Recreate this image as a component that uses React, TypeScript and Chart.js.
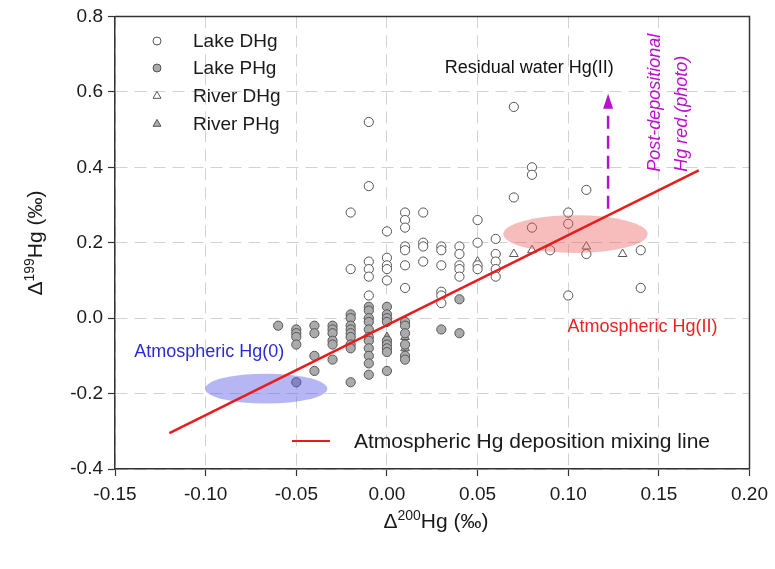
import React, { useEffect, useRef } from "react";
import { Chart, registerables } from "chart.js";

Chart.register(...registerables);

const FONT = "'Liberation Sans', Arial, sans-serif";

// ---------- data ----------
const xTicks = [-0.15, -0.1, -0.05, 0.0, 0.05, 0.1, 0.15, 0.2];
const yTicks = [-0.4, -0.2, 0.0, 0.2, 0.4, 0.6, 0.8];

const seriesNames = ["Lake DHg", "Lake PHg", "River DHg", "River PHg"];

const lakeDHg: [number, number][] = [
  [-0.02, 0.28], [-0.02, 0.13],
  [-0.01, 0.52], [-0.01, 0.35], [-0.01, 0.15], [-0.01, 0.13], [-0.01, 0.11], [-0.01, 0.06],
  [0.0, 0.23], [0.0, 0.16], [0.0, 0.14], [0.0, 0.13], [0.0, 0.1],
  [0.01, 0.28], [0.01, 0.26], [0.01, 0.24], [0.01, 0.19], [0.01, 0.18], [0.01, 0.14], [0.01, 0.08],
  [0.02, 0.28], [0.02, 0.2], [0.02, 0.19], [0.02, 0.15],
  [0.03, 0.19], [0.03, 0.18], [0.03, 0.14], [0.03, 0.07], [0.03, 0.06], [0.03, 0.04],
  [0.04, 0.19], [0.04, 0.17], [0.04, 0.14], [0.04, 0.13], [0.04, 0.11],
  [0.05, 0.26], [0.05, 0.2], [0.05, 0.14], [0.05, 0.13],
  [0.06, 0.21], [0.06, 0.17], [0.06, 0.15], [0.06, 0.13], [0.06, 0.11],
  [0.07, 0.56], [0.07, 0.32],
  [0.08, 0.4], [0.08, 0.38], [0.08, 0.24],
  [0.09, 0.18],
  [0.1, 0.28], [0.1, 0.25], [0.1, 0.06],
  [0.11, 0.34], [0.11, 0.17],
  [0.14, 0.18], [0.14, 0.08],
];

const lakePHg: [number, number][] = [
  [-0.06, -0.02],
  [-0.05, -0.03], [-0.05, -0.04], [-0.05, -0.05], [-0.05, -0.07], [-0.05, -0.17],
  [-0.04, -0.02], [-0.04, -0.04], [-0.04, -0.1], [-0.04, -0.14],
  [-0.03, -0.02], [-0.03, -0.03], [-0.03, -0.04], [-0.03, -0.06], [-0.03, -0.07], [-0.03, -0.11],
  [-0.02, 0.01], [-0.02, 0.0], [-0.02, -0.02], [-0.02, -0.03], [-0.02, -0.04], [-0.02, -0.05],
  [-0.02, -0.07], [-0.02, -0.08], [-0.02, -0.17],
  [-0.01, 0.03], [-0.01, 0.02], [-0.01, 0.0], [-0.01, -0.01], [-0.01, -0.03], [-0.01, -0.05],
  [-0.01, -0.06], [-0.01, -0.08], [-0.01, -0.1], [-0.01, -0.12], [-0.01, -0.15],
  [0.0, 0.03], [0.0, 0.01], [0.0, 0.0], [0.0, -0.01], [0.0, -0.06], [0.0, -0.07],
  [0.0, -0.08], [0.0, -0.09], [0.0, -0.14],
  [0.01, -0.01], [0.01, -0.02], [0.01, -0.04], [0.01, -0.07], [0.01, -0.1], [0.01, -0.11],
  [0.03, -0.03],
  [0.04, 0.05], [0.04, -0.04],
];

const riverDHg: [number, number][] = [
  [0.05, 0.15], [0.07, 0.17], [0.08, 0.18], [0.11, 0.19], [0.13, 0.17],
];

const riverPHg: [number, number][] = [
  [0.0, -0.05], [0.01, -0.05], [0.01, -0.08],
];

const mixingLine: [number, number][] = [[-0.12, -0.305], [0.172, 0.392]];
const mixingLabel = "Atmospheric Hg deposition mixing line";

// annotation anchors (data units)
const ellipseHg0 = { cx: -0.0666, cy: -0.187, rx: 0.0337, ry: 0.0396 };
const ellipseHgII = { cx: 0.104, cy: 0.223, rx: 0.0398, ry: 0.05 };
const labelHg0 = { text: "Atmospheric Hg(0)", x: -0.098, y: -0.09 };
const labelHgII = { text: "Atmospheric Hg(II)", x: 0.141, y: -0.024 };
const labelResidual = { text: "Residual water Hg(II)", x: 0.0785, y: 0.662 };
const labelPost = ["Post-depositional", "Hg red.(photo)"];
const postX = [0.1477, 0.1626];
const postY = 0.388;
const arrow = { x: 0.122, from: 0.29, to: 0.595 };

// ---------- helpers ----------
type Part = { t: string; sup?: boolean };

function drawParts(ctx: CanvasRenderingContext2D, parts: Part[], cx: number, base: number, size: number, supSize: number) {
  const w = parts.reduce((s, p) => {
    ctx.font = `${p.sup ? supSize : size}px ${FONT}`;
    return s + ctx.measureText(p.t).width;
  }, 0);
  let x = cx - w / 2;
  ctx.textAlign = "left";
  ctx.textBaseline = "alphabetic";
  for (const p of parts) {
    ctx.font = `${p.sup ? supSize : size}px ${FONT}`;
    ctx.fillText(p.t, x, p.sup ? base - size * 0.4 : base);
    x += ctx.measureText(p.t).width;
  }
}

function marker(ctx: CanvasRenderingContext2D, kind: "circle" | "triangle", x: number, y: number, fill: string) {
  ctx.save();
  ctx.beginPath();
  if (kind === "circle") {
    ctx.arc(x, y, 4, 0, Math.PI * 2);
  } else {
    const r = 4.6;
    for (let i = 0; i < 3; i++) {
      const a = (i * 2 * Math.PI) / 3;
      const px = x + Math.sin(a) * r;
      const py = y - Math.cos(a) * r;
      if (i === 0) ctx.moveTo(px, py);
      else ctx.lineTo(px, py);
    }
    ctx.closePath();
  }
  ctx.fillStyle = fill;
  ctx.fill();
  ctx.lineWidth = 1;
  ctx.strokeStyle = "#555";
  ctx.stroke();
  ctx.restore();
}

const OPEN = "#ffffff";
const GRAY = "#ababab";

const overlay = {
  id: "overlay",
  beforeDatasetDraw(chart: any, args: any) {
    if (args.index !== 0) return;
    const { ctx, scales } = chart;
    const xs = scales.x;
    const ys = scales.y;
    const ell = (e: any, color: string) => {
      const cx = xs.getPixelForValue(e.cx);
      const cy = ys.getPixelForValue(e.cy);
      const rx = Math.abs(xs.getPixelForValue(e.cx + e.rx) - cx);
      const ry = Math.abs(ys.getPixelForValue(e.cy + e.ry) - cy);
      ctx.save();
      ctx.beginPath();
      ctx.ellipse(cx, cy, rx, ry, 0, 0, Math.PI * 2);
      ctx.fillStyle = color;
      ctx.fill();
      ctx.restore();
    };
    ell(ellipseHg0, "rgba(80,80,230,0.42)");
    ell(ellipseHgII, "rgba(235,90,90,0.40)");
  },
  afterDraw(chart: any) {
    const { ctx, scales, chartArea } = chart;
    const xs = scales.x;
    const ys = scales.y;
    ctx.save();
    // frame (top + right)
    ctx.strokeStyle = "#333";
    ctx.lineWidth = 1.5;
    ctx.beginPath();
    ctx.moveTo(chartArea.left, chartArea.top);
    ctx.lineTo(chartArea.right, chartArea.top);
    ctx.lineTo(chartArea.right, chartArea.bottom);
    ctx.stroke();

    // annotation texts
    ctx.textAlign = "center";
    ctx.textBaseline = "middle";
    ctx.font = `18px ${FONT}`;
    ctx.fillStyle = "#2b2bd6";
    ctx.fillText(labelHg0.text, xs.getPixelForValue(labelHg0.x), ys.getPixelForValue(labelHg0.y));
    ctx.fillStyle = "#ee2020";
    ctx.fillText(labelHgII.text, xs.getPixelForValue(labelHgII.x), ys.getPixelForValue(labelHgII.y));
    ctx.fillStyle = "#111";
    ctx.fillText(labelResidual.text, xs.getPixelForValue(labelResidual.x), ys.getPixelForValue(labelResidual.y));

    // rotated purple text
    ctx.fillStyle = "#bb11cc";
    ctx.font = `italic 18px ${FONT}`;
    labelPost.forEach((t, i) => {
      ctx.save();
      ctx.translate(xs.getPixelForValue(postX[i]), ys.getPixelForValue(postY));
      ctx.rotate(-Math.PI / 2);
      ctx.textAlign = "left";
      ctx.textBaseline = "middle";
      ctx.fillText(t, 0, 0);
      ctx.restore();
    });

    // dashed arrow
    const ax = xs.getPixelForValue(arrow.x);
    const ay0 = ys.getPixelForValue(arrow.from);
    const ay1 = ys.getPixelForValue(arrow.to);
    ctx.strokeStyle = "#bb11cc";
    ctx.lineWidth = 2.5;
    ctx.setLineDash([13, 7]);
    ctx.beginPath();
    ctx.moveTo(ax, ay0);
    ctx.lineTo(ax, ay1 + 16);
    ctx.stroke();
    ctx.setLineDash([]);
    ctx.fillStyle = "#bb11cc";
    ctx.beginPath();
    ctx.moveTo(ax, ay1);
    ctx.lineTo(ax - 5, ay1 + 15);
    ctx.lineTo(ax + 5, ay1 + 15);
    ctx.closePath();
    ctx.fill();

    // legend (series)
    const kinds: ("circle" | "triangle")[] = ["circle", "circle", "triangle", "triangle"];
    const fills = [OPEN, GRAY, OPEN, GRAY];
    const rowsY = [41, 68, 96, 124];
    seriesNames.forEach((name, i) => {
      marker(ctx, kinds[i], 157, rowsY[i], fills[i]);
      ctx.fillStyle = "#1a1a1a";
      ctx.font = `19px ${FONT}`;
      ctx.textAlign = "left";
      ctx.textBaseline = "middle";
      ctx.fillText(name, 193, rowsY[i] + 1);
    });

    // legend (mixing line)
    ctx.strokeStyle = "#e81c1c";
    ctx.lineWidth = 2;
    ctx.beginPath();
    ctx.moveTo(292, 441);
    ctx.lineTo(330, 441);
    ctx.stroke();
    ctx.fillStyle = "#1a1a1a";
    ctx.font = `21px ${FONT}`;
    ctx.textAlign = "left";
    ctx.textBaseline = "middle";
    ctx.fillText(mixingLabel, 354, 442);

    // axis titles
    ctx.fillStyle = "#1a1a1a";
    drawParts(ctx, [{ t: "Δ" }, { t: "200", sup: true }, { t: "Hg (‰)" }], 436, 528, 21, 14);
    ctx.save();
    ctx.translate(42, 243);
    ctx.rotate(-Math.PI / 2);
    drawParts(ctx, [{ t: "Δ" }, { t: "199", sup: true }, { t: "Hg (‰)" }], 0, 0, 21, 14);
    ctx.restore();

    ctx.restore();
  },
};

const toPts = (arr: [number, number][]) => arr.map(([x, y]) => ({ x, y }));

export default function App() {
  const ref = useRef<HTMLCanvasElement | null>(null);

  useEffect(() => {
    document.body.style.margin = "0";
    const canvas = ref.current;
    if (!canvas) return;
    const pointBase = { borderColor: "#555", borderWidth: 1, showLine: false };
    const chart = new Chart(canvas, {
      type: "scatter",
      data: {
        datasets: [
          {
            label: mixingLabel,
            data: toPts(mixingLine),
            showLine: true,
            borderColor: "#e81c1c",
            borderWidth: 2.5,
            pointRadius: 0,
            order: 0,
          } as any,
          { ...pointBase, label: seriesNames[0], data: toPts(lakeDHg), pointStyle: "circle", pointRadius: 4.6, backgroundColor: OPEN, order: 1 },
          { ...pointBase, label: seriesNames[1], data: toPts(lakePHg), pointStyle: "circle", pointRadius: 4.6, backgroundColor: GRAY, order: 2 },
          { ...pointBase, label: seriesNames[2], data: toPts(riverDHg), pointStyle: "triangle", pointRadius: 5, backgroundColor: OPEN, order: 3 },
          { ...pointBase, label: seriesNames[3], data: toPts(riverPHg), pointStyle: "triangle", pointRadius: 5, backgroundColor: GRAY, order: 4 },
        ],
      },
      options: {
        responsive: false,
        animation: false,
        events: [],
        layout: { padding: { top: 15, right: 25, left: 0, bottom: 0 } },
        plugins: { legend: { display: false }, tooltip: { enabled: false }, title: { display: false } },
        scales: {
          x: {
            type: "linear",
            min: -0.15,
            max: 0.2,
            afterBuildTicks: (s: any) => {
              s.ticks = xTicks.map((v) => ({ value: v }));
            },
            afterFit: (s: any) => {
              s.height = 100;
            },
            ticks: {
              autoSkip: false,
              maxRotation: 0,
              padding: 7,
              color: "#1a1a1a",
              font: { family: FONT, size: 19 },
              callback: (v: any) => (Math.abs(Number(v)) < 1e-9 ? 0 : Number(v)).toFixed(2),
            },
            grid: {
              color: "#d2d2d2",
              lineWidth: 1,
              tickColor: "#333",
              tickLength: 7,
              tickWidth: 1.2,
              tickBorderDash: [],
            } as any,
            border: { display: true, color: "#333", width: 1.5, dash: [12, 7] },
          },
          y: {
            type: "linear",
            min: -0.4,
            max: 0.8,
            afterBuildTicks: (s: any) => {
              s.ticks = yTicks.map((v) => ({ value: v }));
            },
            afterFit: (s: any) => {
              s.width = 115;
            },
            ticks: {
              autoSkip: false,
              padding: 5,
              color: "#1a1a1a",
              font: { family: FONT, size: 19 },
              callback: (v: any) => (Math.abs(Number(v)) < 1e-9 ? 0 : Number(v)).toFixed(1),
            },
            grid: {
              color: "#d2d2d2",
              lineWidth: 1,
              tickColor: "#333",
              tickLength: 7,
              tickWidth: 1.2,
              tickBorderDash: [],
            } as any,
            border: { display: true, color: "#333", width: 1.5, dash: [12, 7] },
          },
        },
      },
      plugins: [overlay],
    });
    return () => chart.destroy();
  }, []);

  return (
    <div style={{ width: 775, height: 569, background: "#fff" }}>
      <canvas ref={ref} width={775} height={569} />
    </div>
  );
}
